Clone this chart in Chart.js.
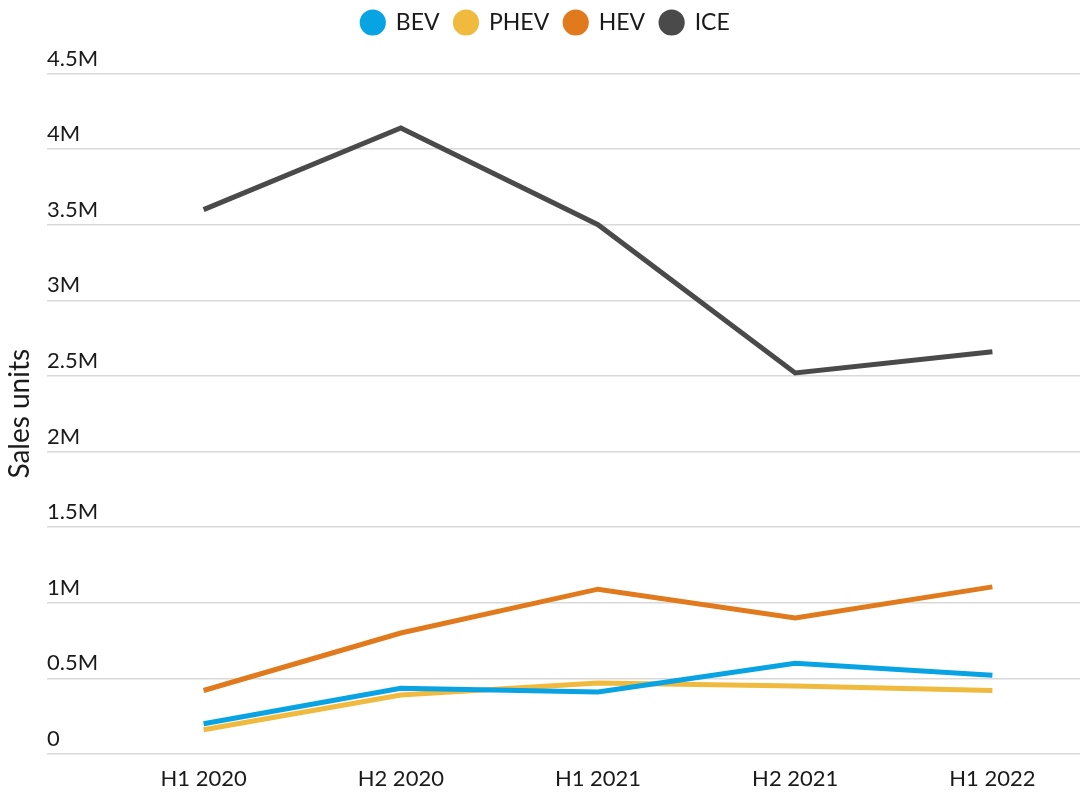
<!DOCTYPE html>
<html>
<head>
<meta charset="utf-8">
<script src="https://cdn.jsdelivr.net/npm/chart.js@4/dist/chart.umd.min.js"></script>
<style>
  html, body { margin: 0; padding: 0; background: #fff; overflow: hidden; }
  /* plot runs a little past the right edge of the window, as in the source */
  #wrap { width: 1091px; height: 792px; }
</style>
</head>
<body>
<div id="wrap"><canvas id="salesChart"></canvas></div>
<script>
// ── Data ──────────────────────────────────────────────────────────────────────
const periods = ['H1 2020', 'H2 2020', 'H1 2021', 'H2 2021', 'H1 2022'];
const bevSales = [200000, 435000, 410000, 600000, 520000];
const phevSales = [160000, 390000, 470000, 450000, 420000];
const hevSales = [420000, 800000, 1090000, 900000, 1105000];
const iceSales = [3600000, 4140000, 3500000, 2520000, 2660000];
const yTicks = [0, 500000, 1000000, 1500000, 2000000, 2500000, 3000000, 3500000, 4000000, 4500000];

const FONT = 'Lato, "Noto Sans", sans-serif';
const INK = '#1a1a1a';

function fmtMillions(v) {
    if (v === 0) return '0';
    return (v / 1000000) + 'M';
}

function line(label, data, color) {
    return {
        label,
        data,
        borderColor: color,
        backgroundColor: color,
        borderWidth: 5,
        pointRadius: 0,
        pointHoverRadius: 0,
        tension: 0,
        fill: false,
    };
}

// extra space under the legend so the plot starts lower
const legendGap = {
    id: 'legendGap',
    beforeLayout(chart) {
        const legend = chart.legend;
        if (!legend || legend._gapPatched) return;
        const fit = legend.fit;
        legend.fit = function () {
            fit.call(this);
            this.height += 29.5;
        };
        legend._gapPatched = true;
    },
};

new Chart(document.getElementById('salesChart'), {
    type: 'line',
    data: {
        labels: periods,
        datasets: [
            line('BEV', bevSales, '#08a3e3'),
            line('PHEV', phevSales, '#efba3d'),
            line('HEV', hevSales, '#e07a1d'),
            line('ICE', iceSales, '#4a4a4a'),
        ],
    },
    options: {
        responsive: true,
        maintainAspectRatio: false,
        animation: false,
        layout: { autoPadding: false, padding: { left: 0, right: 0, top: -4, bottom: 0 } },
        plugins: {
            legend: {
                position: 'top',
                labels: {
                    usePointStyle: true,
                    pointStyle: 'circle',
                    boxWidth: 23,
                    boxHeight: 15,
                    color: INK,
                    font: { family: FONT, size: 23 },
                    padding: 15,
                },
            },
            tooltip: { enabled: false },
        },
        scales: {
            x: {
                offset: true,
                grid: { display: false, drawTicks: false },
                border: { display: false },
                ticks: { color: INK, font: { family: FONT, size: 22 }, padding: 12, maxRotation: 0 },
                afterFit(scale) { scale.height = 38; },
            },
            y: {
                min: 0,
                max: 4500000,
                afterBuildTicks(scale) { scale.ticks = yTicks.map((value) => ({ value })); },
                grid: { color: '#d9d9d9', lineWidth: 1.5, tickLength: 58, tickColor: '#d9d9d9' },
                border: { display: false },
                ticks: {
                    mirror: true,
                    crossAlign: 'near',
                    padding: -58,
                    labelOffset: -15,
                    color: INK,
                    font: { family: FONT, size: 22 },
                    callback: (v) => fmtMillions(v),
                },
                title: {
                    display: true,
                    text: 'Sales units',
                    color: INK,
                    font: { family: FONT, size: 28 },
                    padding: { top: 3, bottom: 0 },
                },
                afterFit(scale) { scale.width = 105; },
            },
        },
    },
    plugins: [legendGap],
});
</script>
</body>
</html>
